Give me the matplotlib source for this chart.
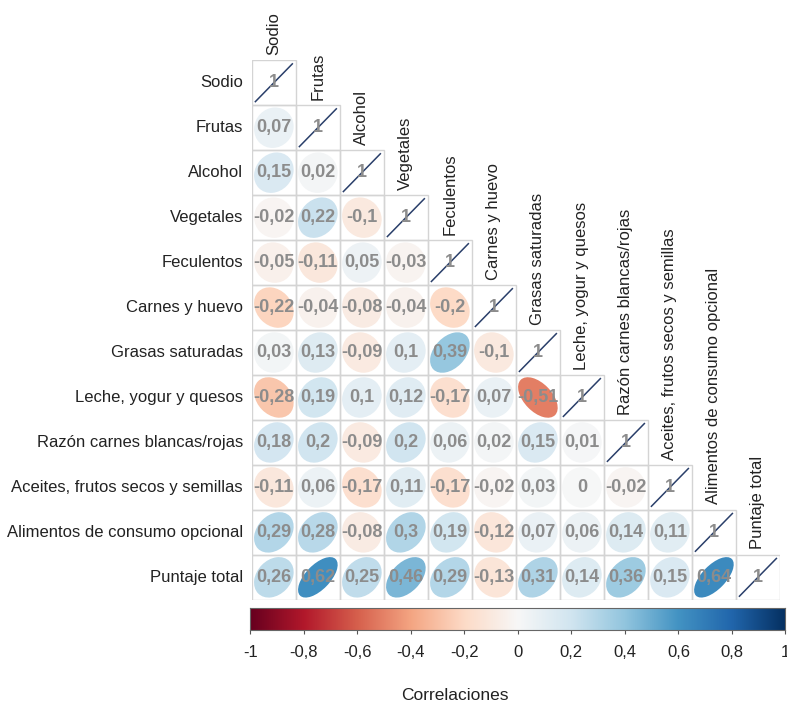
import numpy as np
import matplotlib
matplotlib.use("Agg")
import matplotlib.pyplot as plt
from matplotlib.patches import Ellipse, Rectangle
from matplotlib.colors import Normalize

plt.rcParams['font.family'] = ['Liberation Sans', 'DejaVu Sans']

# variables (rows / columns)
labels = ["Sodio", "Frutas", "Alcohol", "Vegetales", "Feculentos", "Carnes y huevo",
          "Grasas saturadas", "Leche, yogur y quesos", "Razón carnes blancas/rojas",
          "Aceites, frutos secos y semillas", "Alimentos de consumo opcional", "Puntaje total"]

# lower triangle of the correlation matrix, row by row
r_sodio = [1]
r_frutas = [0.07, 1]
r_alcohol = [0.15, 0.02, 1]
r_vegetales = [-0.02, 0.22, -0.1, 1]
r_feculentos = [-0.05, -0.11, 0.05, -0.03, 1]
r_carnes = [-0.22, -0.04, -0.08, -0.04, -0.2, 1]
r_grasas = [0.03, 0.13, -0.09, 0.1, 0.39, -0.1, 1]
r_leche = [-0.28, 0.19, 0.1, 0.12, -0.17, 0.07, -0.51, 1]
r_razon = [0.18, 0.2, -0.09, 0.2, 0.06, 0.02, 0.15, 0.01, 1]
r_aceites = [-0.11, 0.06, -0.17, 0.11, -0.17, -0.02, 0.03, 0, -0.02, 1]
r_alimentos = [0.29, 0.28, -0.08, 0.3, 0.19, -0.12, 0.07, 0.06, 0.14, 0.11, 1]
r_puntaje = [0.26, 0.62, 0.25, 0.46, 0.29, -0.13, 0.31, 0.14, 0.36, 0.15, 0.64, 1]

rows = [r_sodio, r_frutas, r_alcohol, r_vegetales, r_feculentos, r_carnes,
        r_grasas, r_leche, r_razon, r_aceites, r_alimentos, r_puntaje]

cbar_ticks = [-1, -0.8, -0.6, -0.4, -0.2, 0, 0.2, 0.4, 0.6, 0.8, 1]


def fmt(v):
    return f"{v:g}".replace(".", ",")


cmap = plt.get_cmap("RdBu")
norm = Normalize(-1, 1)
n = len(labels)

fig = plt.figure(figsize=(7.87, 7.09), dpi=100)
ax = fig.add_axes([0.320, 0.154, 0.671, 0.761])
ax.set_xlim(0, n)
ax.set_ylim(n, 0)
ax.axis("off")

s = 0.45
for i, row in enumerate(rows):
    for j, r in enumerate(row):
        ax.add_patch(Rectangle((j, i), 1, 1, fill=False, ec="#d4d4d4", lw=1))
        cx, cy = j + 0.5, i + 0.5
        if i == j:
            # r = 1 ellipse collapses to a line
            ax.plot([j + 0.08, j + 0.92], [i + 0.92, i + 0.08], color="#2a3f6a", lw=1.1)
            ax.text(cx, cy, "1", ha="center", va="center", fontsize=13,
                    color="#8c8c8c", fontweight="bold")
            continue
        a = np.sqrt(1 + r) * s * 2
        b = np.sqrt(1 - r) * s * 2
        # y axis is inverted, so positive r tilts to the upper right with angle -45
        ax.add_patch(Ellipse((cx, cy), a, b, angle=-45, fc=cmap(norm(r)), ec="none"))
        ax.text(cx, cy, fmt(r), ha="center", va="center", fontsize=13,
                color="#8c8c8c", fontweight="bold")

for i, lab in enumerate(labels):
    ax.text(-0.2, i + 0.5, lab, ha="right", va="center", fontsize=12, color="#222222")
    ax.text(i + 0.5, i - 0.12, lab, ha="center", va="bottom", rotation=90,
            fontsize=12, color="#222222", clip_on=False)

cax = fig.add_axes([0.318, 0.112, 0.680, 0.030])
grad = np.linspace(-1, 1, 256).reshape(1, -1)
cax.imshow(grad, aspect="auto", cmap=cmap, norm=norm, extent=[-1, 1, 0, 1])
cax.set_yticks([])
cax.set_xticks(cbar_ticks)
cax.set_xticklabels([fmt(t) for t in cbar_ticks], fontsize=12, color="#222222")
cax.tick_params(axis="x", length=3, pad=8, color="#555555")
for sp in cax.spines.values():
    sp.set_color("#666666")
    sp.set_linewidth(0.8)

fig.text(0.578, 0.008, "Correlaciones", ha="center", va="bottom", fontsize=12.5, color="#222222")

fig.savefig("out.png", dpi=100)
